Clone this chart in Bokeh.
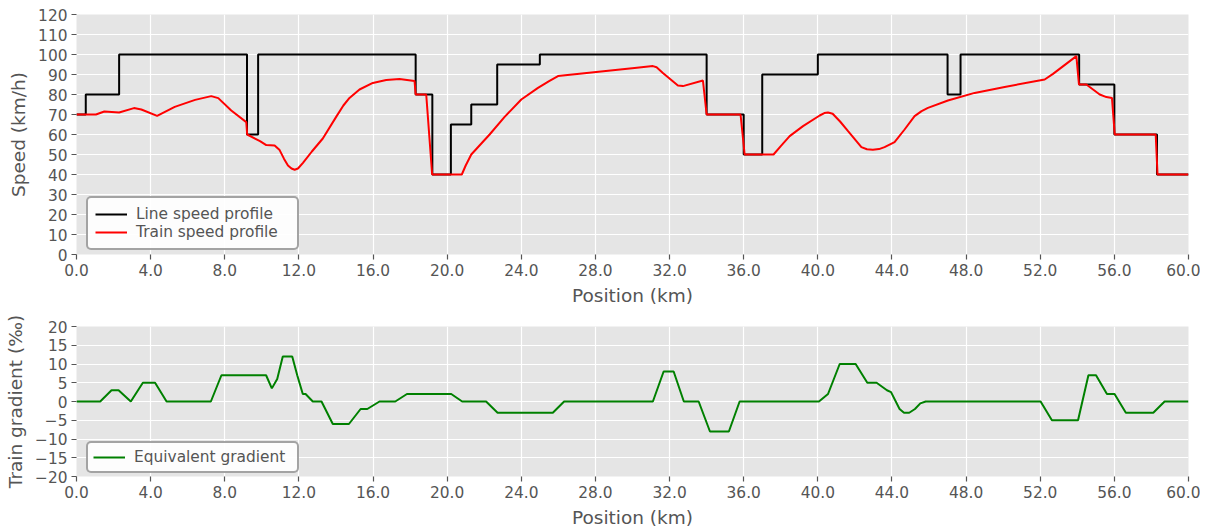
from bokeh.plotting import figure
from bokeh.models import Range1d, FixedTicker, Legend, LegendItem, CustomJSTickFormatter
from bokeh.layouts import column
from bokeh.embed import file_html
from bokeh.resources import INLINE

# ---------------- data ----------------
line_pos = [0, 0.5, 2.3, 9.2, 9.8, 18.3, 19.2, 20.2, 21.3, 22.7, 25.0, 34.0, 36.0, 37.0,
            40.0, 47.0, 47.7, 54.1, 56.0, 58.3, 60]
line_speed = [70, 80, 100, 60, 100, 80, 40, 65, 75, 95, 100, 70, 50, 90,
              100, 80, 100, 85, 60, 40, 40]

train_pos = [0, 1.05, 1.5, 2.3, 3.1, 3.5, 4.35, 5.3, 6.4, 7.27, 7.65, 8.35, 9.16, 9.21,
             9.9, 10.24, 10.69, 10.96, 11.2, 11.41, 11.6, 11.77, 11.95, 12.22, 12.7, 13.29,
             14.01, 14.4, 14.73, 15.27, 15.99, 16.71, 17.43, 18.24, 18.30, 18.87, 19.19,
             20.79, 21.0, 21.3, 22.29, 23.1, 24.0, 24.9, 25.5, 25.98, 30.11, 31.1, 31.3,
             31.64, 32.45, 32.72, 33.8, 34.0, 35.83, 36.05, 37.61, 38.0, 38.48, 39.2, 40.1,
             40.35, 40.55, 40.8, 41.2, 41.62, 42.35, 42.65, 42.97, 43.3, 43.6, 44.14,
             44.68, 45.22, 45.6, 45.94, 47.02, 48.46, 50.08, 52.24, 52.69, 53.95, 54.09,
             54.49, 55.21, 55.57, 55.87, 56.02, 58.23, 58.33, 60]
train_speed = [70, 70, 71.5, 71, 73.2, 72.5, 69.3, 73.8, 77.3, 79.2, 78.2, 72, 66.2, 60,
               56.7, 54.7, 54.5, 52.2, 47.8, 44.5, 43, 42.4, 43, 45.8, 51.5, 58,
               68.8, 74.5, 78.3, 82.5, 85.8, 87.2, 87.8, 86.8, 80, 80, 40,
               40, 44.5, 50, 60, 68.8, 77.5, 83.3, 86.7, 89.2, 93.3, 94.2, 93.6,
               90.8, 84.5, 84.2, 87, 70, 70, 50, 50, 54.2, 59.2, 64.2, 69.5,
               70.7, 71, 70.4, 66.5, 61.8, 53.7, 52.6, 52.4, 52.7, 53.7, 56.2,
               62.5, 69.2, 71.7, 73.3, 77, 80.8, 83.8, 87.5, 90.3, 99.2, 85,
               85, 80, 78.7, 78.3, 60, 60, 40, 40]

grad_pos = [0, 1.28, 1.89, 2.27, 2.93, 3.58, 4.24, 4.86, 7.25, 7.82, 10.23, 10.54, 10.83,
            11.13, 11.64, 11.91, 12.21, 12.36, 12.75, 13.22, 13.83, 14.7, 15.33, 15.69,
            16.35, 17.2, 17.83, 20.22, 20.81, 22.1, 22.72, 25.7, 26.31, 31.1, 31.68, 32.22,
            32.77, 33.57, 34.18, 35.2, 35.78, 40.06, 40.55, 41.18, 42.04, 42.67, 43.17,
            43.73, 43.95, 44.41, 44.65, 44.93, 45.24, 45.53, 45.82, 52.02, 52.63, 54.04,
            54.6, 55.01, 55.6, 56.01, 56.62, 58.1, 58.71, 60]
grad_val = [0, 0, 3, 3, 0, 5, 5, 0, 0, 7, 7, 3.5, 6,
            12, 12, 7, 2, 2, 0, 0, -6, -6, -2, -2,
            0, 0, 2, 2, 0, 0, -3, -3, 0, 0, 8, 8,
            0, 0, -8, -8, 0, 0, 2, 10, 10, 5, 5,
            3, 2.5, -2, -3, -3, -2, -0.5, 0, 0, -5, -5,
            7, 7, 2, 2, -3, -3, 0, 0]

x_ticks = list(range(0, 61, 4))
speed_ticks = list(range(0, 121, 10))
grad_ticks = list(range(-20, 21, 5))

# ---------------- style ----------------
FONT = "DejaVu Sans"
TXT = "#555555"


def style(p):
    p.background_fill_color = "#E5E5E5"
    p.border_fill_color = "white"
    p.outline_line_color = None
    for ax in p.axis:
        ax.axis_line_color = None
        ax.major_tick_line_color = TXT
        ax.major_tick_line_width = 1.2
        ax.major_tick_out = 5
        ax.major_tick_in = 0
        ax.minor_tick_line_color = None
        ax.major_label_text_font = FONT
        ax.major_label_text_font_size = "15.4px"
        ax.major_label_text_color = TXT
        ax.axis_label_text_font = FONT
        ax.axis_label_text_font_size = "18.5px"
        ax.axis_label_text_color = TXT
        ax.axis_label_text_font_style = "normal"
        ax.major_label_standoff = 4
        ax.axis_label_standoff = 6
    p.grid.grid_line_color = "white"
    p.grid.grid_line_width = 1.2


def make_legend(items, loc, pad, lw):
    lg = Legend(items=items, location=loc)
    lg.border_line_color = "#4a4a4a"
    lg.border_line_width = 2
    lg.background_fill_color = "white"
    lg.background_fill_alpha = 0.9
    lg.label_text_font = FONT
    lg.label_text_font_size = "15.4px"
    lg.label_text_color = TXT
    lg.glyph_width = 32
    lg.glyph_height = 18
    lg.label_height = 18
    lg.label_standoff = 9
    lg.label_width = lw
    lg.padding = pad
    lg.spacing = 0
    lg.margin = 0
    try:
        lg.border_radius = 5
    except Exception:
        pass
    return lg


# ---------------- top figure ----------------
p1 = figure(frame_width=1112, frame_height=240, x_range=Range1d(0, 60), y_range=Range1d(0, 120),
            min_border_left=76, min_border_right=12, min_border_top=14, min_border_bottom=55,
            toolbar_location=None, output_backend="svg")
p1.xaxis.ticker = FixedTicker(ticks=x_ticks)
p1.xaxis.formatter = CustomJSTickFormatter(code="return tick.toFixed(1);")
p1.yaxis.ticker = FixedTicker(ticks=speed_ticks)
p1.xaxis.axis_label = "Position (km)"
p1.yaxis.axis_label = "Speed (km/h)"
style(p1)

r_line = p1.step(line_pos, line_speed, mode="after", line_color="black", line_width=2)
r_train = p1.line(train_pos, train_speed, line_color="red", line_width=2)
p1.add_layout(make_legend([LegendItem(label="Line speed profile", renderers=[r_line]),
                           LegendItem(label="Train speed profile", renderers=[r_train])],
                          (10, 4), 7, 154), "center")

# ---------------- bottom figure ----------------
p2 = figure(frame_width=1112, frame_height=150, x_range=Range1d(0, 60), y_range=Range1d(-20, 20),
            min_border_left=76, min_border_right=12, min_border_top=17, min_border_bottom=50,
            toolbar_location=None, output_backend="svg")
p2.xaxis.ticker = FixedTicker(ticks=x_ticks)
p2.xaxis.formatter = CustomJSTickFormatter(code="return tick.toFixed(1);")
p2.yaxis.ticker = FixedTicker(ticks=grad_ticks)
p2.yaxis.formatter = CustomJSTickFormatter(
    code="return tick < 0 ? '\u2212' + Math.abs(tick) : '' + tick;")
p2.xaxis.axis_label = "Position (km)"
p2.yaxis.axis_label = "Train gradient (\u2030)"
style(p2)

r_grad = p2.line(grad_pos, grad_val, line_color="#008000", line_width=2)
p2.add_layout(make_legend([LegendItem(label="Equivalent gradient", renderers=[r_grad])],
                          (10, 3), 5, 158), "center")

layout = column(p1, p2, spacing=0)
open("out.html", "w").write(file_html(layout, INLINE))
